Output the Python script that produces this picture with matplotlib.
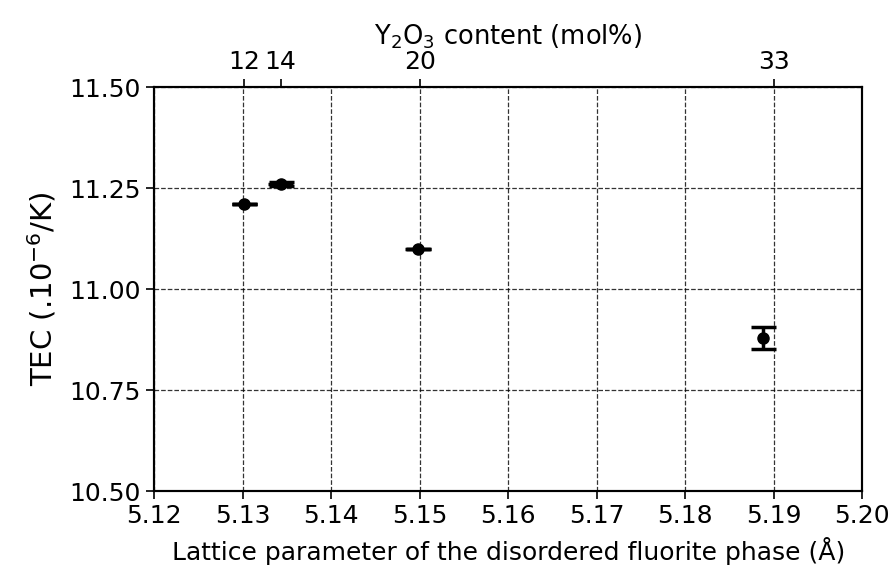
import matplotlib.pyplot as plt
import numpy as np

# Data
lattice = [5.1302, 5.1343, 5.1498, 5.1888]
tec = [11.21, 11.26, 11.10, 10.879]
lattice_err = [0.0014, 0.0014, 0.0014, 0.0]
tec_err = [0.0, 0.004, 0.0, 0.027]

top_tick_pos = [5.1302, 5.1343, 5.15, 5.19]
top_tick_labels = ['12', '14', '20', '33']

fig = plt.figure(figsize=(8.9, 5.69), dpi=100)
ax = fig.add_axes([0.173, 0.137, 0.796, 0.710])

# horizontal error bars (no caps)
ax.errorbar(lattice, tec, xerr=lattice_err, fmt='o', color='black',
            markersize=8, elinewidth=2.5, capsize=0, zorder=3)
# vertical error bars (with caps)
ax.errorbar(lattice, tec, yerr=tec_err, fmt='none', ecolor='black',
            elinewidth=2.5, capsize=9, capthick=2.5, zorder=3)

ax.set_xlim(5.12, 5.20)
ax.set_ylim(10.5, 11.5)
ax.set_xticks(np.arange(5.12, 5.2001, 0.01))
ax.set_xticklabels([f'{v:.2f}' for v in np.arange(5.12, 5.2001, 0.01)])
ax.set_yticks([10.5, 10.75, 11.0, 11.25, 11.5])
ax.set_yticklabels(['10.50', '10.75', '11.00', '11.25', '11.50'])
ax.tick_params(labelsize=18, length=6, width=1.2)
ax.grid(True, ls='--', color='black', lw=0.9, alpha=0.8)

ax.set_xlabel('Lattice parameter of the disordered fluorite phase (Å)', fontsize=18, labelpad=6)
ax.set_ylabel('TEC (.10$^{-6}$/K)', fontsize=21, labelpad=8)

# top axis with Y2O3 content
ax2 = ax.twiny()
ax2.set_xlim(ax.get_xlim())
ax2.set_xticks(top_tick_pos)
ax2.set_xticklabels(top_tick_labels)
ax2.tick_params(labelsize=18, length=6, width=1.2)
ax2.set_xlabel('Y$_2$O$_3$ content (mol%)', fontsize=18.5, labelpad=4)

for a in (ax, ax2):
    for spine in a.spines.values():
        spine.set_linewidth(1.5)

plt.savefig('out.png', dpi=100)
